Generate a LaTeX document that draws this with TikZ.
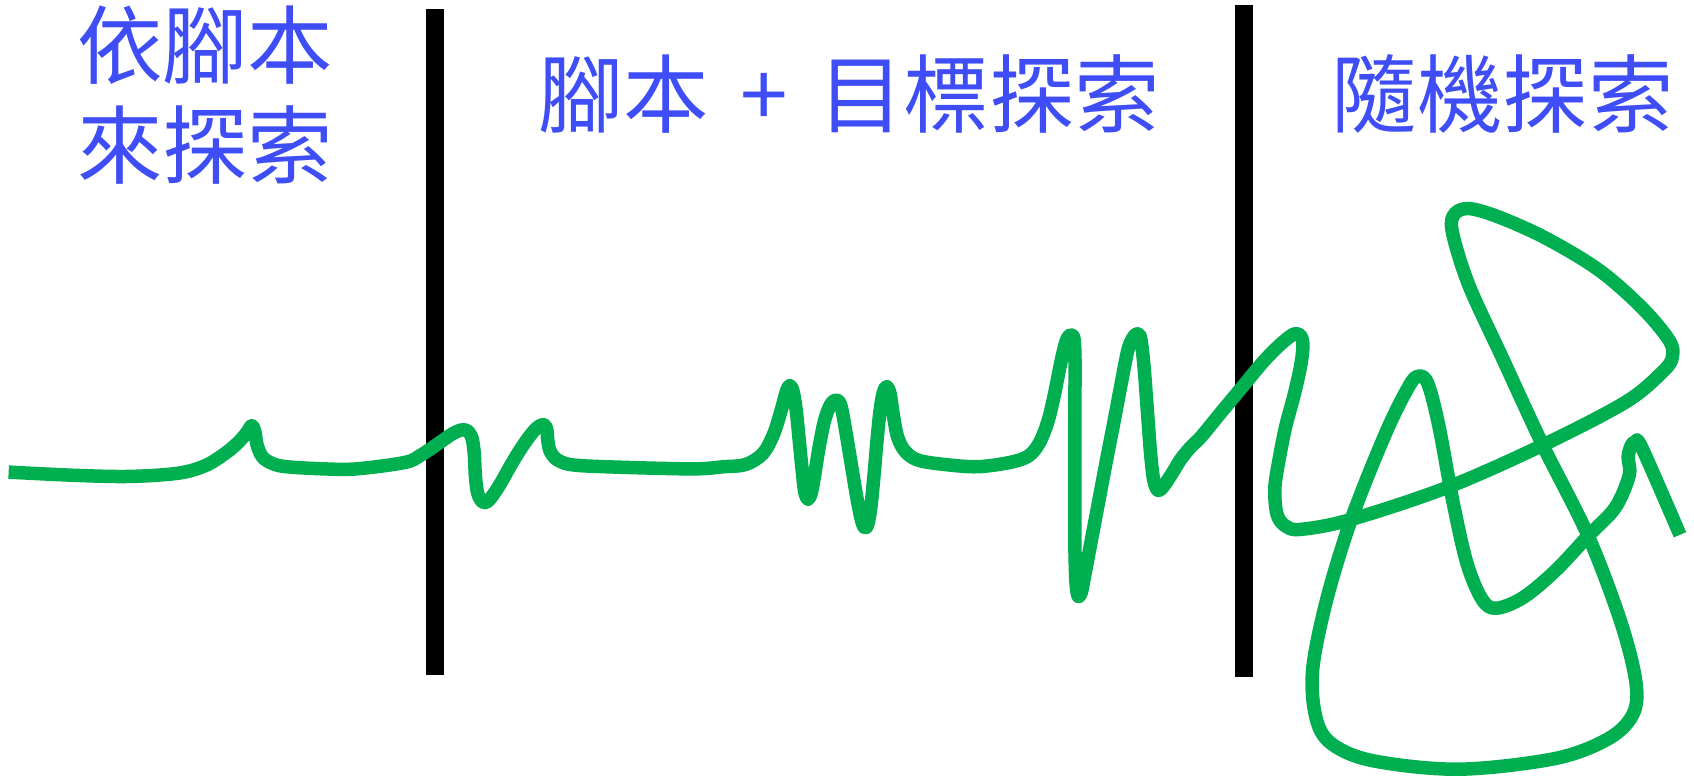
\documentclass[tikz,border=0pt]{standalone}
\usepackage{fontspec}
\newfontfamily\cjkfont{Noto Sans CJK TC}
\definecolor{txtblue}{RGB}{62,77,245}
\definecolor{trailgreen}{RGB}{0,176,80}

\begin{document}
\begin{tikzpicture}[x=0.02cm,y=-0.02cm,
  caption/.style={text=txtblue,font=\cjkfont\fontsize{45}{53}\selectfont,align=center,inner sep=0pt},
  divider/.style={line width=0.346cm},
  trail/.style={trailgreen,line width=0.25cm,line join=round}]

\useasboundingbox (0,0) rectangle (1568,720);

\node [caption] (t1) at (190,88)  {依腳本\\來探索};
\node [caption] (t2) at (786,87)  {腳本\hspace{0.36em}+\hspace{0.36em}目標探索};
\node [caption] (t3) at (1391,87) {隨機探索};

\draw [divider] (402.5,8) -- (402.5,625);
\draw [divider] (1151.5,5) -- (1151.5,627);

\draw [trail] plot [smooth, tension=0.55] coordinates {
  (8,437) (70,440) (120,441) (165,438) (190,431) (208,420) (220,410)
  (228,401) (233,394) (236,400) (238,412) (243,423) (252,429) (265,432)
  (300,434) (330,434) (375,428) (390,421) (405,411) (418,402) (427,398)
  (433,399) (437,406) (439,420) (440,440) (442,456) (446,464) (450,465)
  (455,460) (463,448) (472,432) (481,417) (490,404) (497,396) (503,393)
  (506,397) (507,407) (509,417) (515,425) (528,430) (560,432) (640,434)
  (670,432) (690,430) (706,420) (716,402) (723,380) (728,362) (731,357)
  (734,362) (737,380) (740,410) (743,440) (745,456) (748,462) (751,456)
  (754,440) (758,415) (763,390) (768,376) (772,371) (776,371) (779,378)
  (783,400) (788,430) (793,460) (797,480) (800,488) (803,486) (806,470)
  (809,440) (812,405) (815,377) (818,362) (821,358) (824,365) (827,385)
  (831,405) (838,418) (850,426) (875,430) (905,432) (935,428) (952,422)
  (962,410) (970,390) (976,365) (981,340) (985,322) (988,313) (991,310)
  (994,313) (995,330) (995,370) (995,420) (995,470) (995,510) (996,540)
  (998,552) (1001,548) (1003,538) (1010,501) (1017,464) (1024,427)
  (1031,391) (1038,354) (1044,324) (1049,312) (1053,309) (1056,314)
  (1059,340) (1062,380) (1065,420) (1068,445) (1072,454) (1077,450)
  (1085,438) (1093,425) (1102,414) (1112,404) (1130,382) (1150,358)
  (1170,334) (1186,318) (1198,309) (1204,311) (1206,320) (1204,338)
  (1198,365) (1190,395) (1184,425) (1180,452) (1182,476) (1190,487)
  (1204,490) (1250,481) (1340,451) (1428,412) (1505,372) (1540,343)
  (1548,330) (1545,315) (1520,285) (1480,250) (1430,220) (1385,200)
  (1358,193) (1345,200) (1345,218) (1360,265) (1390,330) (1428,412)
  (1470,496) (1500,575) (1514,630) (1512,660) (1490,683) (1440,702)
  (1350,712) (1270,704) (1232,688) (1218,664) (1215,620) (1228,555)
  (1251,480) (1283,400) (1305,356) (1314,348) (1322,356) (1332,395)
  (1345,465) (1358,522) (1372,555) (1385,563) (1410,553) (1440,528)
  (1470,496) (1495,470) (1508,440) (1507,423) (1510,412) (1514,409)
  (1520,415) (1555,495)};

\end{tikzpicture}
\end{document}
